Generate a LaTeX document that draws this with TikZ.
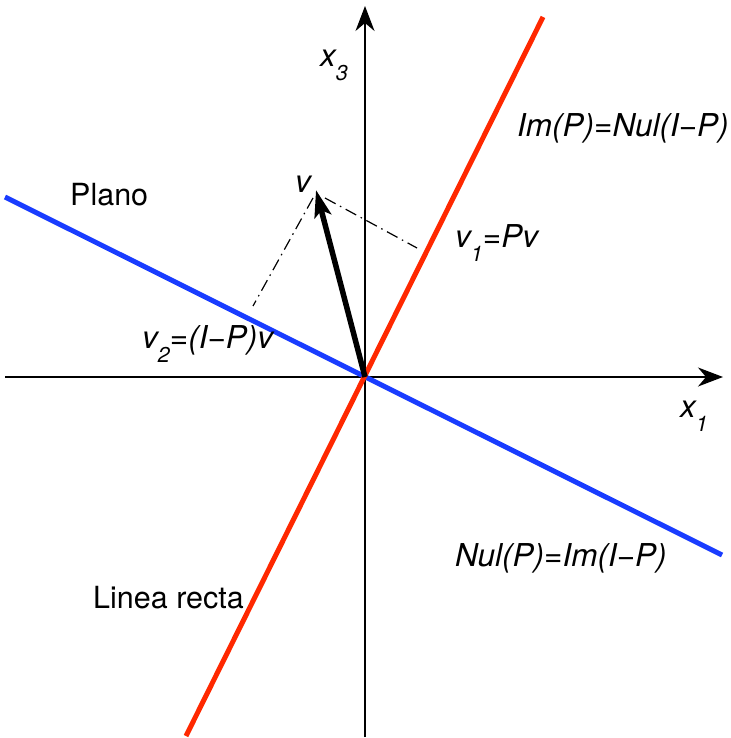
\documentclass[tikz,border=0pt]{standalone}
\usepackage{fontspec}
\setmainfont{TeX Gyre Heros}
\usetikzlibrary{arrows.meta}
\newcommand{\lsub}[1]{\raisebox{-14pt}{\fontsize{21.5}{21.5}\selectfont #1}}
\definecolor{myred}{RGB}{255,40,0}
\definecolor{myblue}{RGB}{25,60,255}
\begin{document}
\begin{tikzpicture}[x=1pt,y=-1pt,
  lbl/.style={anchor=base west, inner sep=0pt, font=\fontsize{30.5}{36}\selectfont},
  ilbl/.style={anchor=base west, inner sep=0pt, font=\fontsize{31.5}{36}\selectfont\itshape},
  axis/.style={line width=1.6pt, -{Stealth[length=25pt,width=19pt,inset=8pt]}},
  redline/.style={line width=5pt, myred},
  blueline/.style={line width=5pt, myblue},
  vec/.style={line width=5.5pt, -{Stealth[length=27pt,width=17pt,inset=6pt]}},
  proj/.style={line width=1.2pt, dash pattern=on 12pt off 5pt on 1.5pt off 5pt}]
\useasboundingbox (0,0) rectangle (730,738);
\coordinate (O) at (365,377);
\coordinate (xl) at (5,377);
\coordinate (xr) at (723,377);
\coordinate (yb) at (365,737);
\coordinate (yt) at (365,6);
\coordinate (rb) at (186,736);
\coordinate (rt) at (543,17);
\coordinate (bl) at (5,197);
\coordinate (br) at (722,555);
\coordinate (v) at (316,190);
\coordinate (p1a) at (325,198);
\coordinate (p1b) at (417,248);
\coordinate (p2a) at (313,198);
\coordinate (p2b) at (253,306);
\draw[axis] (xl) -- (xr);
\draw[axis] (yb) -- (yt);
\draw[blueline] (bl) -- (br);
\draw[redline] (rb) -- (rt);
\draw[proj] (p1a) -- (p1b);
\draw[proj] (p2a) -- (p2b);
\draw[vec] (O) -- (v);
\node[ilbl] (x3) at (320,67) {x\lsub{3}};
\node[ilbl] (x1) at (680,417) {x\lsub{1}};
\node[ilbl] (vl) at (295,192) {v};
\node[ilbl] (v1) at (455,247) {v\lsub{1}=Pv};
\node[ilbl] (v2) at (142,348) {v\lsub{2}=(I−P)v};
\node[ilbl] (imp) at (517,137) {Im(P)=Nul(I−P)};
\node[ilbl] (nulp) at (455,566) {Nul(P)=Im(I−P)};
\node[lbl] (plano) at (70,205) {Plano};
\node[lbl] (recta) at (93,608) {Linea recta};
\end{tikzpicture}
\end{document}
